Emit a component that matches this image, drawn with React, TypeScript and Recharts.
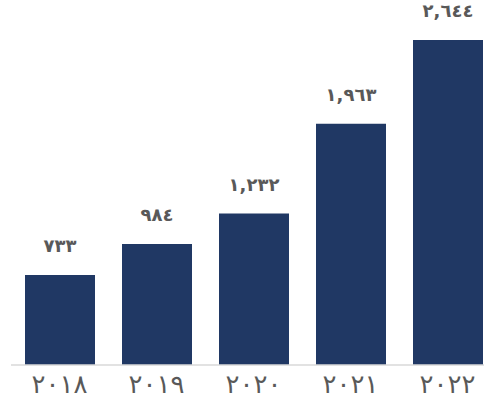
import { BarChart, Bar, XAxis, YAxis, LabelList } from 'recharts';

const years = [2018, 2019, 2020, 2021, 2022];
const totals = [733, 984, 1232, 1963, 2644];

const arabicDigits = ['٠', '١', '٢', '٣', '٤', '٥', '٦', '٧', '٨', '٩'];

const toArabic = (s: string) => s.replace(/[0-9]/g, (d) => arabicDigits[Number(d)]);

const formatValue = (v: any) => toArabic(Number(v).toLocaleString('en-US'));

const data = years.map((y, i) => ({ year: y, total: totals[i] }));

export default function App() {
  return (
    <div style={{ position: 'absolute', left: 0, top: 0, width: 484, height: 405, overflow: 'hidden', background: '#fff' }}>
      <BarChart
        width={496}
        height={405}
        data={data}
        margin={{ top: 40, right: 0, bottom: 0, left: 11 }}
      >
        <XAxis
          dataKey="year"
          tickFormatter={(v) => toArabic(String(v))}
          tickLine={false}
          axisLine={{ stroke: '#d9d9d9', strokeWidth: 1.5 }}
          height={40}
          dy={2}
          tick={{ fill: '#595959', fontSize: 26, fontFamily: 'DejaVu Sans' }}
        />
        <YAxis hide domain={[0, 2644]} />
        <Bar dataKey="total" fill="#203864" barSize={70} isAnimationActive={false}>
          <LabelList
            dataKey="total"
            position="top"
            offset={23}
            formatter={formatValue}
            style={{ fill: '#595959', fontSize: 18, fontWeight: 'bold', fontFamily: 'DejaVu Sans' }}
          />
        </Bar>
      </BarChart>
    </div>
  );
}
